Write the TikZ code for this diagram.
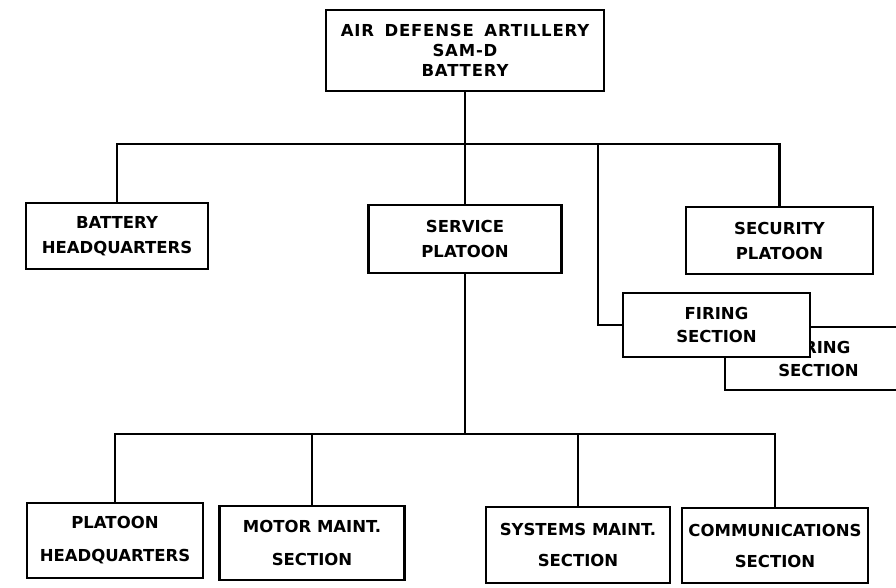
\documentclass[tikz,border=0pt]{standalone}
\usepackage{fontspec}
\newfontfamily\labfont{DejaVu Sans Bold}
\newfontfamily\widefont{DejaVu Sans Bold}[LetterSpace=5,WordSpace=1.6]
\newcommand\lab{\labfont\fontsize{16.5}{19}\selectfont}
\newcommand\widelab{\widefont\fontsize{16.5}{19}\selectfont}
\begin{document}
\begin{tikzpicture}[x=1pt,y=-1pt,
  box/.style={draw, line width=2.8pt, fill=white, align=center, inner sep=0pt, font=\lab},
  link/.style={line width=2.8pt}]
\useasboundingbox[fill=white] (0,0) rectangle (896,587);
% top
\node[box, font=\widelab, minimum width=278pt, minimum height=81pt] (sam) at (465,50.5) {AIR DEFENSE ARTILLERY\\[1pt]SAM-D\\[1pt]BATTERY};
% middle row
\node[box, minimum width=182pt, minimum height=66pt] (bhq) at (117,236) {BATTERY\\[6pt]HEADQUARTERS};
\node[box, minimum width=193pt, minimum height=68pt] (service) at (465,239) {SERVICE\\[6pt]PLATOON};
\node[box, minimum width=187pt, minimum height=67pt] (sec) at (779.5,240.5) {SECURITY\\[6pt]PLATOON};
\node[box, minimum width=187pt, minimum height=63pt] (fire2) at (818.5,358.5) {FIRING\\[4pt]SECTION};
\node[box, minimum width=187pt, minimum height=64pt] (fire1) at (716.5,325) {FIRING\\[4pt]SECTION};
% bottom row
\node[box, minimum width=176pt, minimum height=75pt] (phq) at (115,540.5) {PLATOON\\[14pt]HEADQUARTERS};
\node[box, minimum width=185pt, minimum height=74pt] (motor) at (312,543) {MOTOR MAINT.\\[14pt]SECTION};
\node[box, minimum width=184pt, minimum height=76pt] (sys) at (578,545) {SYSTEMS MAINT.\\[12pt]SECTION};
\node[box, minimum width=186pt, minimum height=75pt] (comm) at (775,545.5) {COMMUNICATIONS\\[12pt]SECTION};
% bus points
\coordinate (busT) at (465,144);
\coordinate (fj) at (598,144);
\coordinate (busB) at (465,434);
% connectors
\draw[link] (sam.south) -- (service.north);
\draw[link] (bhq.north) |- (busT) -| (sec.north);
\draw[link] (fj) |- (fire1.west);
\draw[link] (service.south) -- (busB);
\draw[link] (phq.north) |- (busB) -| (comm.north);
\draw[link] (motor.north) -- (motor.north |- busB);
\draw[link] (sys.north) -- (sys.north |- busB);
\end{tikzpicture}
\end{document}
